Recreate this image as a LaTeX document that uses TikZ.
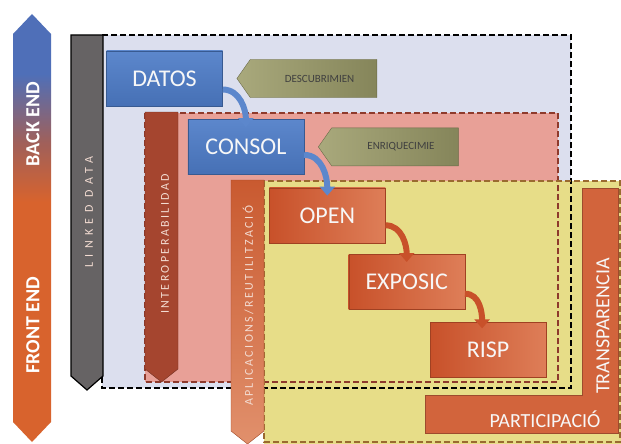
\documentclass[tikz,border=0pt]{standalone}
\usepackage{fontspec}
\setmainfont{Carlito}
\newfontfamily\barfont[LetterSpace=20]{Carlito}
\usetikzlibrary{arrows.meta, positioning, shapes.symbols}

\definecolor{backc}{HTML}{4F6FB8}
\definecolor{midc}{HTML}{A0605A}
\definecolor{frontc}{HTML}{D8632D}
\definecolor{outerc}{HTML}{DCDFEE}
\definecolor{pinkc}{HTML}{E8A097}
\definecolor{pinkd}{HTML}{8E3A2C}
\definecolor{yellowc}{HTML}{E7DD88}
\definecolor{yellowd}{HTML}{9A6A30}
\definecolor{grayc}{HTML}{666364}
\definecolor{brownc}{HTML}{A5452F}
\definecolor{orangea}{HTML}{C95A30}
\definecolor{orangeb}{HTML}{E1906C}
\definecolor{transc}{HTML}{D2643C}
\definecolor{bluea}{HTML}{5C87CC}
\definecolor{blueb}{HTML}{4670B5}
\definecolor{reda}{HTML}{C8512A}
\definecolor{redb}{HTML}{DE7E58}
\definecolor{olivea}{HTML}{A9A97C}
\definecolor{oliveb}{HTML}{85855A}
\definecolor{labelc}{HTML}{F3DCD2}

\pgfdeclareverticalshading{endshade}{100bp}{color(0bp)=(frontc); color(53bp)=(frontc); color(60bp)=(midc); color(68bp)=(backc); color(100bp)=(backc)}

\begin{document}
\begin{tikzpicture}[
    x=1pt, y=-1pt,
    node distance = 13pt and -35pt,
    stage/.style = {rectangle, minimum width=116pt, minimum height=55pt,
      inner sep=0pt, text=white!94!gray, font=\fontsize{24}{26}\selectfont},
    bluebox/.style = {stage, top color=bluea, bottom color=blueb, draw=blueb!80!black},
    redbox/.style = {stage, left color=reda, right color=redb, draw=reda!80!black},
    tag/.style = {signal, signal to=west, signal pointer angle=110,
      minimum width=140pt, minimum height=38pt, inner sep=0pt,
      left color=olivea, right color=oliveb, draw=oliveb!80!black,
      text=black!75, font=\fontsize{11}{12}\selectfont},
    flow/.style = {line width=6pt, -{Triangle[length=9pt, width=15pt]}},
    dashline/.style = {line width=1.8pt, dash pattern=on 6pt off 3pt},
    bartext/.style = {rotate=90, text=labelc, font=\barfont\fontsize{12}{13}\selectfont},
    endtext/.style = {rotate=90, text=white, font=\bfseries\fontsize{20}{22}\selectfont},
    bigtext/.style = {text=white!94!gray, font=\fontsize{20}{22}\selectfont}
    ]
  \useasboundingbox (0,0) rectangle (621,444);

  % back end / front end
  \shade[shading=endshade] (13,34) -- (32,14) -- (51,34) -- (51,422) -- (32,442) -- (13,422) -- cycle;
  \node[endtext] (back) at (33,124) {BACK END};
  \node[endtext] (front) at (33,325) {FRONT END};

  % layers
  \fill[outerc] (102,35) rectangle (571,388);
  \fill[pinkc] (145,113) rectangle (558,382);
  \fill[yellowc] (264,181) rectangle (621,444);
  \draw[dashline, black] (102,35) rectangle (571,388);
  \draw[dashline, pinkd] (145,113) rectangle (558,382);
  \draw[dashline, yellowd] (264,181) rectangle (620,442);

  % bars
  \fill[grayc, draw=black, line width=1.2pt] (71,35) -- (103,35) -- (103,376) -- (87,390) -- (71,376) -- cycle;
  \node[bartext] (linked) at (89,212) {\addfontfeature{LetterSpace=45}LINKED DATA};
  \fill[brownc, draw=brownc!70!black] (145,112) -- (178,112) -- (178,369) -- (161.5,382) -- (145,369) -- cycle;
  \node[bartext] (interop) at (165,244) {INTEROPERABILIDAD};
  \shade[top color=orangea, bottom color=orangeb, draw=orangea!80!black] (231,180) -- (264,180) -- (264,431) -- (247.5,444) -- (231,431) -- cycle;
  \node[bartext] (aplic) at (248,306) {APLICACIONS/REUTILITZACIÓ};

  \fill[transc, draw=transc!75!black] (582,188) -- (618,188) -- (618,433) -- (425,433) -- (425,395) -- (582,395) -- cycle;
  \node[bigtext, rotate=90] (transp) at (603,326) {TRANSPARENCIA};
  \node[bigtext] (partic) at (545,419) {PARTICIPACIÓ};

  % stages
  \node[bluebox] (datos) at (164.5,78.5) {DATOS};
  \node[bluebox] (consol) [below right=of datos] {CONSOL};
  \node[redbox] (open) [below right=of consol] {OPEN};
  \node[redbox] (exposic) [below right=11pt and -37pt of open] {EXPOSIC};
  \node[redbox] (risp) [below right=of exposic] {RISP};

  \node[tag, anchor=west] (descub) [right=14pt of datos] {\hspace*{12pt}DESCUBRIMIEN};
  \node[tag, anchor=west] (enriq) [right=14pt of consol] {\hspace*{12pt}ENRIQUECIMIE};

  \draw[flow, bluea] ([yshift=-11pt]datos.east) to[out=0, in=90] ([yshift=-8pt]consol.north);
  \draw[flow, bluea] ([yshift=-8pt]consol.east) to[out=0, in=90] ([yshift=-8pt]open.north);
  \draw[flow, reda] ([yshift=-10pt]open.east) to[out=0, in=90] ([yshift=-8pt]exposic.north);
  \draw[flow, reda] ([yshift=-12pt]exposic.east) to[out=0, in=90] ([xshift=-6pt, yshift=-6pt]risp.north);
\end{tikzpicture}
\end{document}
